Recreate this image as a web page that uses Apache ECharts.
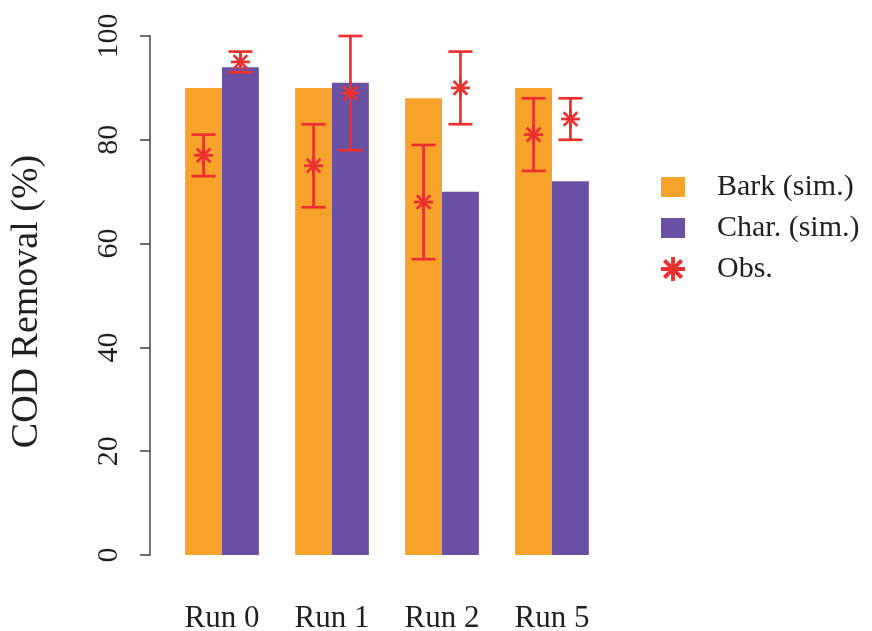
<!DOCTYPE html>
<html>
<head>
<meta charset="utf-8">
<script src="https://cdn.jsdelivr.net/npm/echarts@6/dist/echarts.min.js"></script>
<style>
  html, body { margin: 0; padding: 0; background: #ffffff; }
  #chart { width: 872px; height: 631px; }
</style>
</head>
<body>
<div id="chart"></div>
<script>
// Categories and simulated removal (%)
const runs = ['Run 0', 'Run 1', 'Run 2', 'Run 5'];
const barkSim = [90, 90, 88, 90];
const charSim = [94, 91, 70, 72];

// Observed removal (%) with lower / upper error limits
const barkObs = [77, 75, 68, 81];
const barkObsLow = [73, 67, 57, 74];
const barkObsHigh = [81, 83, 79, 88];
const charObs = [95, 89, 90, 84];
const charObsLow = [93, 78, 83, 80];
const charObsHigh = [97, 100, 97, 88];

// Y axis ticks
const yTicks = [0, 20, 40, 60, 80, 100];

const ORANGE = '#F7A22B';
const PURPLE = '#6A50A2';
const RED = '#EC2F2F';
const INK = '#231f20';
const FONT = '"Liberation Serif", "DejaVu Serif", serif';
const GAP = 0.33; // bar category gap ratio

// Legend icons: a 24x20 box and an asterisk (R pch 8) drawn as filled strokes
const boxIcon = 'path://M0 0H24V20H0Z';
const starIcon = 'path://M8.4 0H11.6V20H8.4Z M0 8.4H20V11.6H0Z ' +
  'M1.6 4L4 1.6L18.4 16L16 18.4Z M16 1.6L18.4 4L4 18.4L1.6 16Z';

function obsItems(vals, lows, highs) {
  return vals.map((v, i) => [i, v, lows[i], highs[i]]);
}

// Observed point with its error bar, centred on the matching bar
function makeRender(side) {
  return function (params, api) {
    const i = api.value(0);
    const p = api.coord([i, api.value(1)]);
    const lo = api.coord([i, api.value(2)]);
    const hi = api.coord([i, api.value(3)]);
    const band = api.size([1, 0])[0];
    const x = p[0] + side * band * (1 - GAP) / 4;
    const y = p[1];
    const cap = 12, r = 9.5, d = r * 0.72;
    const style = { stroke: RED, lineWidth: 2.7, fill: null };
    const seg = (x1, y1, x2, y2) => ({ type: 'line', shape: { x1, y1, x2, y2 }, style });
    return {
      type: 'group',
      children: [
        seg(x, hi[1], x, lo[1]),
        seg(x - cap, hi[1], x + cap, hi[1]),
        seg(x - cap, lo[1], x + cap, lo[1]),
        seg(x, y - r, x, y + r),
        seg(x - r, y, x + r, y),
        seg(x - d, y - d, x + d, y + d),
        seg(x - d, y + d, x + d, y - d)
      ]
    };
  };
}

const chart = echarts.init(document.getElementById('chart'), null, { renderer: 'canvas' });
chart.setOption({
  animation: false,
  backgroundColor: '#ffffff',
  textStyle: { fontFamily: FONT },
  grid: { left: 167, width: 440, top: 36, bottom: 76, containLabel: false, outerBoundsMode: 'none' },
  legend: {
    orient: 'vertical',
    left: 656,
    top: 167,
    itemWidth: 24,
    itemHeight: 26,
    itemGap: 11,
    symbolKeepAspect: true,
    selectedMode: false,
    textStyle: { fontFamily: FONT, fontSize: 30, color: INK, padding: [0, 0, 0, 27], lineHeight: 30 },
    data: [
      { name: 'Bark (sim.)', icon: boxIcon, itemStyle: { color: ORANGE } },
      { name: 'Char. (sim.)', icon: boxIcon, itemStyle: { color: PURPLE } },
      { name: 'Obs.', icon: starIcon, itemStyle: { color: RED } }
    ]
  },
  xAxis: {
    type: 'category',
    data: runs,
    axisLine: { show: false },
    axisTick: { show: false },
    axisLabel: { fontFamily: FONT, fontSize: 31, color: INK, margin: 48 }
  },
  yAxis: {
    type: 'value',
    min: 0,
    max: 100,
    interval: 20,
    offset: 17,
    name: 'COD Removal (%)',
    nameLocation: 'middle',
    nameRotate: 90,
    nameGap: 104,
    nameTextStyle: { fontFamily: FONT, fontSize: 38, color: INK, padding: [0, 12, 0, 0] },
    splitLine: { show: false },
    axisLine: { show: true, lineStyle: { color: '#444', width: 1.5 } },
    axisTick: { show: true, length: 10, lineStyle: { color: '#444', width: 1.5 } },
    axisLabel: {
      rotate: 90, fontFamily: FONT, fontSize: 30, color: INK, margin: 26,
      formatter: v => (yTicks.indexOf(v) >= 0 ? String(v) : '')
    }
  },
  series: [
    {
      name: 'Bark (sim.)', type: 'bar', data: barkSim,
      itemStyle: { color: ORANGE }, barGap: 0, barCategoryGap: (GAP * 100) + '%'
    },
    {
      name: 'Char. (sim.)', type: 'bar', data: charSim,
      itemStyle: { color: PURPLE }, barGap: 0, barCategoryGap: (GAP * 100) + '%'
    },
    {
      name: 'Obs.', type: 'custom', clip: false, z: 5,
      itemStyle: { color: RED },
      data: obsItems(barkObs, barkObsLow, barkObsHigh),
      renderItem: makeRender(-1)
    },
    {
      name: 'Obs.', type: 'custom', clip: false, z: 5,
      itemStyle: { color: RED },
      data: obsItems(charObs, charObsLow, charObsHigh),
      renderItem: makeRender(1)
    }
  ]
});
</script>
</body>
</html>
